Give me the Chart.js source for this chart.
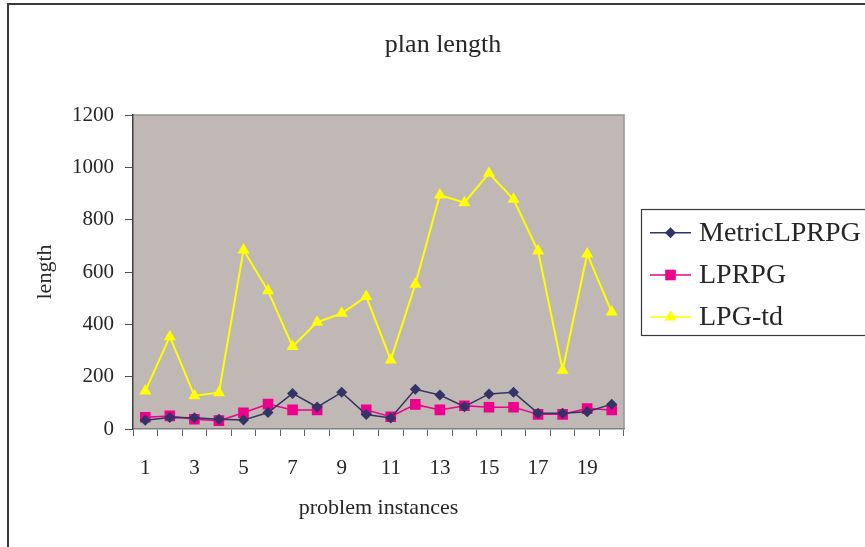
<!DOCTYPE html>
<html>
<head>
<meta charset="utf-8">
<script src="https://cdn.jsdelivr.net/npm/chart.js@4/dist/chart.umd.min.js"></script>
<style>
html,body{margin:0;padding:0;background:#fff;}
#wrap{width:865px;height:547px;position:relative;}
</style>
</head>
<body>
<div id="wrap"><canvas id="c" width="865" height="547"></canvas></div>
<script>
const categories = ['1','2','3','4','5','6','7','8','9','10','11','12','13','14','15','16','17','18','19','20'];
const metricLPRPG = [33, 44, 43, 37, 34, 63, 136, 84, 140, 55, 42, 152, 130, 85, 134, 140, 60, 60, 66, 95];
const lprpg = [45, 50, 37, 32, 62, 95, 73, 73, null, 73, 47, 94, 73, 89, 83, 83, 56, 56, 78, 73];
const lpgTd = [145, 353, 127, 139, 684, 528, 315, 408, 442, 506, 264, 553, 894, 865, 977, 878, 680, 225, 669, 447];
const yTicks = [0, 200, 400, 600, 800, 1000, 1200];
const chartTitle = 'plan length';
const xTitle = 'problem instances';
const yTitle = 'length';

const FONT = "'Liberation Serif', 'Times New Roman', serif";
const TEXT = '#262626';

const framePlugin = {
  id: 'frame',
  beforeDraw(chart) {
    const {ctx, chartArea: a} = chart;
    ctx.save();
    ctx.fillStyle = '#fff';
    ctx.fillRect(0, 0, chart.width, chart.height);
    ctx.strokeStyle = '#3a3a3a';
    ctx.lineWidth = 2;
    ctx.beginPath();
    ctx.moveTo(8, chart.height);
    ctx.lineTo(8, 4);
    ctx.lineTo(chart.width, 4);
    ctx.stroke();
    ctx.fillStyle = '#c0b8b5';
    ctx.fillRect(a.left, a.top, a.right - a.left, a.bottom - a.top);
    ctx.strokeStyle = '#9c9494';
    ctx.lineWidth = 1.5;
    ctx.beginPath();
    ctx.moveTo(a.left, a.top);
    ctx.lineTo(a.right, a.top);
    ctx.lineTo(a.right, a.bottom);
    ctx.stroke();
    ctx.restore();
  },
  afterDraw(chart) {
    const {ctx} = chart;
    ctx.save();
    ctx.fillStyle = TEXT;
    ctx.font = '26px ' + FONT;
    ctx.textAlign = 'center';
    ctx.textBaseline = 'middle';
    ctx.fillText(chartTitle, 443, 45);
    const bx = 641.5, by = 209.5, bw = 240, bh = 126;
    ctx.fillStyle = '#fff';
    ctx.fillRect(bx, by, bw, bh);
    ctx.strokeStyle = '#3a3a3a';
    ctx.lineWidth = 1.2;
    ctx.strokeRect(bx, by, bw, bh);
    const rows = [232.7, 275, 317];
    chart.data.datasets.forEach((ds, i) => {
      const y = rows[i];
      ctx.strokeStyle = ds.borderColor;
      ctx.lineWidth = 1.5;
      ctx.beginPath();
      ctx.moveTo(650, y);
      ctx.lineTo(691, y);
      ctx.stroke();
      ctx.fillStyle = ds.pointBackgroundColor;
      const cx = 670.5;
      ctx.beginPath();
      if (ds.pointStyle === 'rectRot') {
        const r = ds.pointRadius;
        ctx.moveTo(cx - r, y); ctx.lineTo(cx, y - r); ctx.lineTo(cx + r, y); ctx.lineTo(cx, y + r);
      } else if (ds.pointStyle === 'rect') {
        const s = ds.pointRadius * Math.SQRT1_2;
        ctx.rect(cx - s, y - s, 2 * s, 2 * s);
      } else {
        const r = ds.pointRadius;
        ctx.moveTo(cx, y - r);
        ctx.lineTo(cx + r * Math.sin(2 * Math.PI / 3), y - r * Math.cos(2 * Math.PI / 3));
        ctx.lineTo(cx + r * Math.sin(4 * Math.PI / 3), y - r * Math.cos(4 * Math.PI / 3));
      }
      ctx.closePath();
      ctx.fill();
      ctx.fillStyle = TEXT;
      ctx.font = '28px ' + FONT;
      ctx.textAlign = 'left';
      ctx.textBaseline = 'middle';
      ctx.fillText(ds.label, 699, y + 1);
    });
    ctx.restore();
  }
};

new Chart(document.getElementById('c'), {
  type: 'line',
  data: {
    labels: categories,
    datasets: [
      {
        label: 'MetricLPRPG', data: metricLPRPG,
        borderColor: '#333366', backgroundColor: '#333366', pointBackgroundColor: '#333366',
        pointBorderColor: '#333366', borderWidth: 1.5, pointStyle: 'rectRot', pointRadius: 5.5,
        pointBorderWidth: 0, tension: 0, spanGaps: false
      },
      {
        label: 'LPRPG', data: lprpg,
        borderColor: '#ec008c', backgroundColor: '#ec008c', pointBackgroundColor: '#ec008c',
        pointBorderColor: '#ec008c', borderWidth: 1.5, pointStyle: 'rect', pointRadius: 7.5,
        pointBorderWidth: 0, tension: 0, spanGaps: false
      },
      {
        label: 'LPG-td', data: lpgTd,
        borderColor: '#ffff00', backgroundColor: '#ffff00', pointBackgroundColor: '#ffff00',
        pointBorderColor: '#ffff00', borderWidth: 2, pointStyle: 'triangle', pointRadius: 7,
        pointBorderWidth: 0, tension: 0, spanGaps: false
      }
    ]
  },
  options: {
    responsive: false,
    animation: false,
    devicePixelRatio: 1,
    layout: { padding: { left: 20, top: 115, right: 241, bottom: 0 } },
    plugins: {
      legend: { display: false },
      title: { display: false },
      tooltip: { enabled: false }
    },
    scales: {
      x: {
        type: 'category',
        offset: true,
        grid: { offset: true, drawOnChartArea: false, drawTicks: true, tickLength: 7, color: '#666', lineWidth: 1 },
        border: { display: true, color: '#808080', width: 1.5 },
        ticks: {
          autoSkip: false, maxRotation: 0, minRotation: 0, padding: 20,
          color: TEXT, font: { family: FONT, size: 21 },
          callback: function (v, i) { return i % 2 === 0 ? this.getLabelForValue(v) : ''; }
        },
        title: { display: true, text: xTitle, color: TEXT, font: { family: FONT, size: 22 }, padding: { top: 0, bottom: 26 } },
        afterFit: (s) => { s.height = 118; }
      },
      y: {
        min: 0, max: 1200,
        afterBuildTicks: (s) => { s.ticks = yTicks.map(v => ({ value: v })); },
        grid: { drawOnChartArea: false, drawTicks: true, tickLength: 8, color: '#555', lineWidth: 1 },
        border: { display: true, color: '#404040', width: 1.5 },
        ticks: { padding: 11, color: TEXT, font: { family: FONT, size: 21 }, callback: (v) => String(v) },
        title: { display: true, text: yTitle, color: TEXT, font: { family: FONT, size: 22 }, padding: { top: 12, bottom: 0 } },
        afterFit: (s) => { s.width = 113; }
      }
    }
  },
  plugins: [framePlugin]
});
</script>
</body>
</html>
